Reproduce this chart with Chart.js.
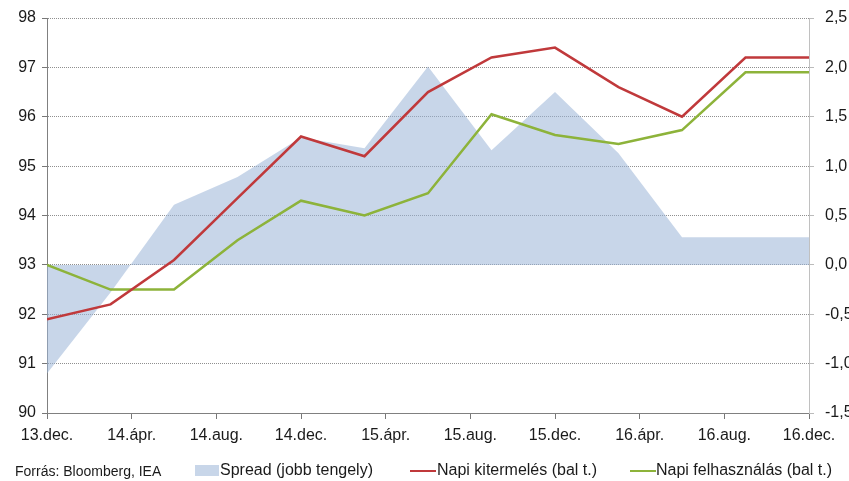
<!DOCTYPE html>
<html>
<head>
<meta charset="utf-8">
<script src="https://cdn.jsdelivr.net/npm/chart.js@4.4.1/dist/chart.umd.min.js"></script>
<style>
  html, body { margin: 0; padding: 0; background: #fff; }
  #wrap { position: relative; width: 849px; height: 481px; font-family: "Liberation Sans", Arial, sans-serif; color: #1a1a1a; }
  #wrap canvas { position: absolute; left: 0; top: 0; }
  .leg { position: absolute; top: 461px; font-size: 16px; line-height: 18px; white-space: nowrap; }
  .sw { position: absolute; }
</style>
</head>
<body>
<div id="wrap">
  <canvas id="chart" width="849" height="481"></canvas>
  <div class="leg" style="left:15px;top:462px;font-size:14px;">Forrás: Bloomberg, IEA</div>
  <div class="sw" style="left:195px;top:465px;width:24px;height:11px;background:#c8d6e9;"></div>
  <div class="leg" style="left:220px;">Spread (jobb tengely)</div>
  <div class="sw" style="left:410px;top:470px;width:26px;height:2px;background:#c0393b;"></div>
  <div class="leg" style="left:437px;">Napi kitermelés (bal t.)</div>
  <div class="sw" style="left:630px;top:470px;width:26px;height:2px;background:#8db33a;"></div>
  <div class="leg" style="left:656px;">Napi felhasználás (bal t.)</div>
</div>
<script>
/* negyedéves adatok, 2013 dec – 2016 dec */
const DATES = ["2013-12", "2014-03", "2014-06", "2014-09", "2014-12", "2015-03", "2015-06",
               "2015-09", "2015-12", "2016-03", "2016-06", "2016-09", "2016-12"];
const SPREAD      = [-1.10, -0.28, 0.61, 0.89, 1.29, 1.18, 2.01, 1.16, 1.75, 1.13, 0.28, 0.28, 0.28];
const KITERMELES  = [91.9, 92.2, 93.1, 94.35, 95.6, 95.2, 96.5, 97.2, 97.4, 96.6, 96.0, 97.2, 97.2];
const FELHASZNALAS = [93.0, 92.5, 92.5, 93.5, 94.3, 94.0, 94.45, 96.05, 95.63, 95.45, 95.73, 96.9, 96.9];
const TICK_LABELS = ["13.dec.", "14.ápr.", "14.aug.", "14.dec.", "15.ápr.", "15.aug.",
                     "15.dec.", "16.ápr.", "16.aug.", "16.dec."];

const FONT = { family: "'Liberation Sans', Arial, sans-serif", size: 16 };
const TXT = "#1a1a1a";

// hónap-sorszám 2013 dec-től
function monthIdx(s) {
  const [y, m] = s.split("-").map(Number);
  return (y - 2013) * 12 + m - 12;
}
function pts(arr) {
  return arr.map((v, i) => ({ x: monthIdx(DATES[i]), y: v }));
}
function fmtHu(v) {
  return v.toFixed(1).replace(".", ",");
}
// fix tengelyméretek, hogy a rajzterület a képhez igazodjon
function fixV(w) {
  return s => { s.width = w; s.paddingTop = 0; s.paddingBottom = 0; };
}

new Chart(document.getElementById("chart"), {
  type: "line",
  data: {
    datasets: [
      { label: "Napi kitermelés (bal t.)", data: pts(KITERMELES), yAxisID: "y",
        borderColor: "#c0393b", borderWidth: 2.5, pointRadius: 0, tension: 0, order: 1 },
      { label: "Napi felhasználás (bal t.)", data: pts(FELHASZNALAS), yAxisID: "y",
        borderColor: "#8db33a", borderWidth: 2.5, pointRadius: 0, tension: 0, order: 2 },
      { label: "Spread (jobb tengely)", data: pts(SPREAD), yAxisID: "y1",
        borderWidth: 0, borderColor: "rgba(0,0,0,0)", backgroundColor: "rgba(155,180,215,0.55)",
        fill: "origin", pointRadius: 0, tension: 0, order: 3 }
    ]
  },
  options: {
    responsive: false, animation: false,
    layout: { padding: { top: 18, left: 0, right: 0, bottom: 0 } },
    plugins: { legend: { display: false }, tooltip: { enabled: false } },
    scales: {
      x: {
        type: "linear", min: 0, max: 36,
        afterFit: s => { s.height = 68; s.paddingLeft = 0; s.paddingRight = 0; },
        ticks: { stepSize: 4, autoSkip: false, maxRotation: 0, color: TXT, font: FONT, padding: 7,
                 callback: v => TICK_LABELS[v / 4] ?? "" },
        grid: { drawOnChartArea: false, drawTicks: true, tickLength: 6, color: "#777" },
        border: { color: "#808080", width: 1 }
      },
      y: {
        position: "left", min: 90, max: 98,
        afterFit: fixV(47),
        ticks: { stepSize: 1, color: TXT, font: FONT, padding: 6 },
        grid: { color: "#8f8f8f", lineWidth: 1, tickLength: 5, tickColor: "#777", tickBorderDash: [] },
        border: { color: "#808080", width: 1, dash: [1, 1] }
      },
      y1: {
        position: "right", min: -1.5, max: 2.5,
        afterFit: fixV(40),
        ticks: { stepSize: 0.5, color: TXT, font: FONT, padding: 11, callback: v => fmtHu(v) },
        grid: { drawOnChartArea: false, tickLength: 5, color: "#bbb" },
        border: { color: "#c0c0c0", width: 1 }
      }
    }
  }
});
</script>
</body>
</html>
